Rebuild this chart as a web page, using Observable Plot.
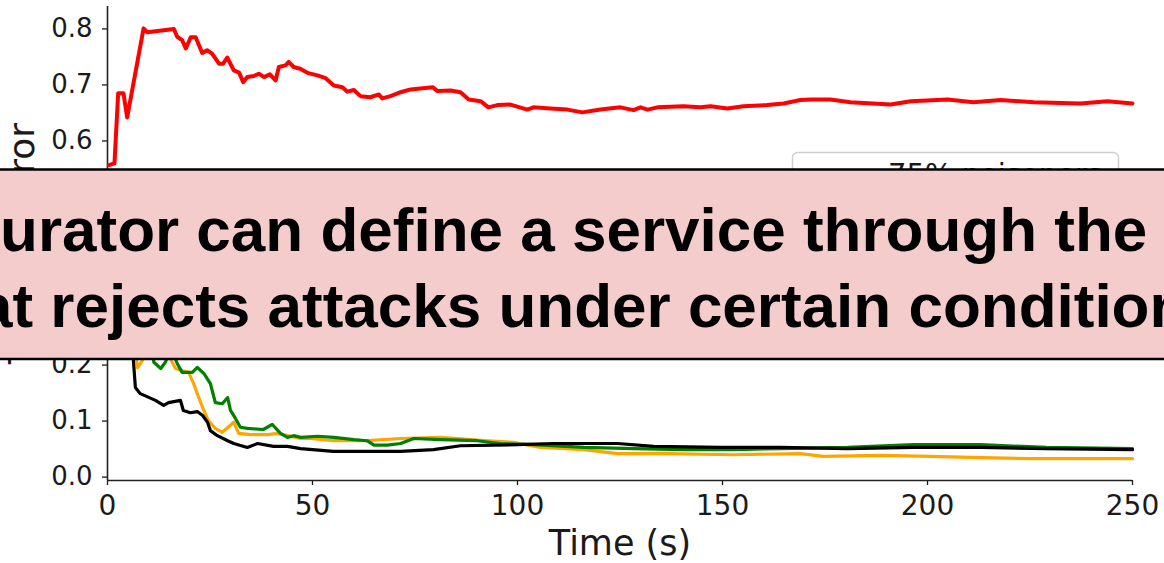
<!DOCTYPE html>
<html><head><meta charset="utf-8">
<script src="https://cdn.jsdelivr.net/npm/d3@7"></script>
<script src="https://cdn.jsdelivr.net/npm/@observablehq/plot@0.6"></script>
<style>
html,body{margin:0;padding:0;background:#fff;}
#wrap{position:relative;width:1164px;height:563px;overflow:hidden;background:#fff;}
#wrap svg{display:block;}
</style>
</head><body>
<div id="wrap"></div>
<script>
// ---- data (time in s, error) ----
const xTicks = [0, 50, 100, 150, 200, 250];
const yTicks = [0, 0.1, 0.2, 0.3, 0.4, 0.5, 0.6, 0.7, 0.8];
const xDomain = [0, 250];
const yDomain = [-0.006, 0.84];
const xLabel = "Time (s)";
const yLabel = "Training Error";
const legendLabel = "75% poisoners";
const bannerLine1 = "curator can define a service through the";
const bannerLine2 = "that rejects attacks under certain conditions";

const redSeries = [[0.3,0.557],[1.7,0.560],[2.6,0.685],[3.9,0.685],[4.8,0.642],[8.8,0.801],[9.7,0.794],[16.2,0.80],[17,0.786],[18.2,0.78],[19.1,0.765],[20.3,0.785],[21.5,0.785],[23.1,0.757],[24.3,0.762],[25.5,0.756],[27.2,0.738],[28.2,0.738],[29.2,0.749],[30.8,0.726],[32.1,0.722],[33.1,0.705],[34.1,0.714],[35.7,0.716],[36.9,0.72],[38.2,0.714],[39.6,0.719],[41,0.708],[41.8,0.732],[43.4,0.735],[44.2,0.741],[45.4,0.732],[47,0.729],[49,0.721],[51.2,0.717],[53.2,0.712],[55.2,0.699],[57.3,0.696],[58.5,0.688],[60.1,0.691],[61.7,0.68],[64.1,0.678],[66.2,0.683],[67,0.676],[69,0.68],[71.5,0.687],[73.9,0.692],[79.3,0.696],[80.5,0.689],[83.7,0.69],[86.1,0.687],[88.1,0.674],[91,0.671],[92.9,0.66],[95.1,0.664],[98.3,0.665],[102.4,0.656],[103.9,0.66],[108,0.658],[112.2,0.656],[115.8,0.651],[120.2,0.656],[125.1,0.66],[128.3,0.655],[130,0.66],[131.7,0.656],[134.1,0.66],[140.5,0.662],[144.6,0.66],[147.1,0.662],[151.2,0.658],[155.1,0.662],[160.9,0.664],[164.9,0.667],[169,0.673],[171.5,0.674],[176.3,0.674],[181.2,0.669],[191,0.665],[195.9,0.671],[204.9,0.674],[211.2,0.669],[217.8,0.673],[225.9,0.669],[237.3,0.667],[243.9,0.671],[250,0.667]];

const orangeSeries = [[0.5,0.45],[6,0.30],[7.3,0.195],[8.2,0.205],[12,0.25],[15.8,0.205],[16.6,0.194],[18.3,0.19],[19.8,0.187],[21,0.167],[22.2,0.143],[23.5,0.119],[24.6,0.101],[26.3,0.087],[28,0.08],[30.8,0.098],[32,0.078],[34.9,0.076],[39,0.076],[41.5,0.078],[43.9,0.074],[47.1,0.069],[49.5,0.069],[55.1,0.065],[63.3,0.065],[71.5,0.069],[81.2,0.071],[91.7,0.065],[99,0.062],[105.6,0.053],[116.2,0.049],[124.4,0.042],[136.6,0.042],[152.7,0.04],[169,0.042],[174.6,0.037],[188.5,0.039],[200.7,0.037],[213,0.035],[225.1,0.033],[250,0.033]];

const greenSeries = [[0.5,0.45],[10.5,0.25],[11.3,0.205],[13,0.194],[14.1,0.205],[15.5,0.23],[17,0.203],[18.2,0.187],[20.7,0.187],[21.9,0.196],[23.5,0.185],[25.1,0.167],[26.3,0.133],[28,0.131],[29.3,0.142],[30,0.119],[30.8,0.11],[32.4,0.089],[34.1,0.087],[38,0.085],[40.2,0.094],[42.2,0.078],[43.9,0.071],[45.4,0.074],[47.1,0.071],[51.2,0.073],[55.2,0.071],[60.1,0.067],[63.3,0.065],[65,0.057],[68.3,0.057],[71.5,0.06],[74.7,0.069],[81.2,0.067],[90.1,0.065],[95.8,0.06],[104,0.058],[116.2,0.053],[128.4,0.051],[140.6,0.049],[152.7,0.049],[164,0.051],[180.5,0.053],[196.6,0.058],[213,0.058],[229,0.053],[250,0.051]];

const blackSeries = [[0.5,0.45],[5.5,0.30],[6.3,0.21],[6.8,0.16],[8,0.149],[11.7,0.137],[13.7,0.128],[14.9,0.133],[17.8,0.137],[18.5,0.119],[20.2,0.115],[21.9,0.117],[23.2,0.11],[24.4,0.098],[25.1,0.083],[26.8,0.074],[29.3,0.065],[30.8,0.06],[34.1,0.053],[36.6,0.06],[40.5,0.055],[43.9,0.055],[47.1,0.051],[55.1,0.046],[71.5,0.046],[79.5,0.049],[86.1,0.056],[100,0.058],[108.8,0.06],[124.4,0.06],[133.2,0.055],[149.5,0.053],[164,0.053],[180.5,0.051],[196.6,0.053],[213,0.053],[229,0.051],[250,0.049]];

const lineOpts = (color, w) => ({x: d => d[0], y: d => d[1], stroke: color, strokeWidth: w, strokeLinejoin: "round", strokeLinecap: "round"});
const textColor = "#1a1a1a";

const chart = Plot.plot({
  width: 1164,
  height: 563,
  marginLeft: 107,
  marginRight: 32,
  marginTop: 6,
  marginBottom: 83,
  x: {domain: xDomain},
  y: {domain: yDomain},
  style: {fontFamily: "'DejaVu Sans', sans-serif", color: textColor, background: "#fff"},
  marks: [
    Plot.axisY(yTicks, {tickSize: 5, tickPadding: 10, fontSize: 26, tickFormat: d3.format(".1f"), label: null, strokeWidth: 1.3, color: textColor}),
    Plot.axisX(xTicks, {tickSize: 5, tickPadding: 10, fontSize: 28, tickFormat: d3.format("d"), label: null, strokeWidth: 1.3, color: textColor}),
    Plot.ruleX([xDomain[0]], {stroke: "#222", strokeWidth: 1.6}),
    Plot.ruleY([yDomain[0]], {stroke: "#222", strokeWidth: 1.6}),
    Plot.line(redSeries, lineOpts("#ff0000", 4)),
    Plot.line(orangeSeries, lineOpts("#ffa500", 3.2)),
    Plot.line(greenSeries, lineOpts("#008000", 3.2)),
    Plot.line(blackSeries, lineOpts("#000000", 3.2)),
    Plot.text([xLabel], {frameAnchor: "bottom", lineAnchor: "bottom", dy: 74, fontSize: 35, fill: textColor}),
    Plot.text([yLabel], {frameAnchor: "left", rotate: -90, textAnchor: "middle", lineAnchor: "bottom", dx: -74, fontSize: 36, fill: textColor})
  ]
});
const wrap = document.getElementById("wrap");
wrap.appendChild(chart);

// ---- overlay: legend box and banner ----
const ov = d3.select(wrap).append("svg")
  .attr("width", 1164).attr("height", 563)
  .style("position", "absolute").style("left", "0px").style("top", "0px");

ov.append("rect")
  .attr("x", 792.5).attr("y", 152.5).attr("width", 326).attr("height", 175).attr("rx", 5)
  .attr("fill", "rgba(255,255,255,0.85)").attr("stroke", "#cfcfcf").attr("stroke-width", 1.5);
ov.append("text")
  .attr("x", 888).attr("y", 184)
  .attr("font-family", "'DejaVu Sans', sans-serif").attr("font-size", 29).attr("fill", textColor)
  .text(legendLabel);

ov.append("rect").attr("x", -2).attr("y", 169).attr("width", 1168).attr("height", 190).attr("fill", "#f4cccc");
ov.append("line").attr("x1", -2).attr("x2", 1166).attr("y1", 169.5).attr("y2", 169.5).attr("stroke", "#000").attr("stroke-width", 2.4);
ov.append("line").attr("x1", -2).attr("x2", 1166).attr("y1", 359).attr("y2", 359).attr("stroke", "#000").attr("stroke-width", 2.4);

const bannerSize = 62;
const bannerFont = `bold ${bannerSize}px 'Liberation Sans'`;
const ctx = document.createElement("canvas").getContext("2d");
ctx.font = bannerFont;
const off1 = -ctx.measureText("c").width;
const off2 = -ctx.measureText("th").width - 22;
ov.append("text").attr("x", off1).attr("y", 251)
  .attr("font-family", "'Liberation Sans', Arial, sans-serif").attr("font-weight", "bold").attr("font-size", bannerSize).attr("fill", "#000")
  .text(bannerLine1);
ov.append("text").attr("x", off2).attr("y", 327)
  .attr("font-family", "'Liberation Sans', Arial, sans-serif").attr("font-weight", "bold").attr("font-size", bannerSize).attr("fill", "#000")
  .text(bannerLine2);
</script>
</body></html>
